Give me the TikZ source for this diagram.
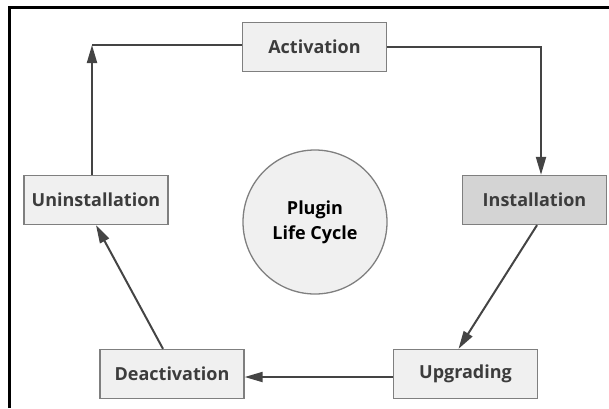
\documentclass[tikz,border=0pt]{standalone}
\usepackage{fontspec}
\setmainfont{Open Sans}
\usepackage{tikz}
\usetikzlibrary{arrows.meta,positioning,calc}
\definecolor{boxfill}{HTML}{F0F0F0}
\definecolor{boxdark}{HTML}{D4D4D4}
\definecolor{boxline}{HTML}{7F7F7F}
\definecolor{flowcol}{HTML}{444444}
\definecolor{textcol}{HTML}{3C3C3C}
\tikzset{
    stage/.style={
        rectangle,
        draw=boxline, line width=1.3pt,
        fill=boxfill,
        minimum width=144pt,
        minimum height=49pt,
        text=textcol,
        font=\fontsize{18}{22}\selectfont\bfseries
    },
    hub/.style={
        circle,
        draw=boxline, line width=1.3pt,
        fill=boxfill,
        minimum size=144pt,
        align=center,
        font=\fontsize{18}{25}\selectfont\bfseries
    },
    line/.style={draw=flowcol, line width=2pt},
    flow/.style={line, -{Triangle[length=18pt,width=10pt]}}
}
\begin{document}
\begin{tikzpicture}[x=1pt,y=-1pt]
\useasboundingbox (0,0) rectangle (609,408);
\draw[line width=3pt] (9.7,408) -- (9.7,7) -- (609,7);
\node[stage] (act) at (314.5,47) {Activation};
\node[stage,fill=boxdark] (inst) at (534.5,200) {Installation};
\node[stage] (upg) at (465.5,374) {Upgrading};
\node[stage] (deact) at (172,374) {Deactivation};
\node[stage] (uninst) at (96,200) {Uninstallation};
\node[hub] (cycle) at (315,222) {Plugin\\Life Cycle};
\coordinate (tl) at (92,45);
\draw[flow] (act.east) -| ([xshift=6.5pt]inst.north);
\draw[flow] ([xshift=2.5pt]inst.south) -- ([xshift=-7pt]upg.north);
\draw[flow] ([yshift=-3pt]upg.west) -- ([yshift=-3pt]deact.east);
\draw[flow] ([xshift=-9pt]deact.north) -- (uninst.south);
\draw[line] (act.west |- tl) -- (tl);
\draw[flow] (uninst.north -| tl) -- (tl);
\end{tikzpicture}
\end{document}
